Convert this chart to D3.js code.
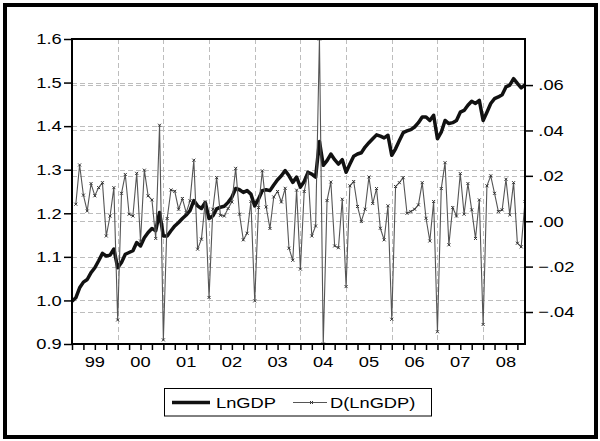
<!DOCTYPE html>
<html>
<head>
<meta charset="utf-8">
<script src="https://cdn.jsdelivr.net/npm/d3@7"></script>
<style>
  body { margin: 0; background: #fff; }
  text { font-family: "Liberation Sans", Arial, sans-serif; fill: #000; }
</style>
</head>
<body>
<script>
// nhan nam tren truc x (1999 - 2008, so lieu theo thang)
var yearLabels = ["99", "00", "01", "02", "03", "04", "05", "06", "07", "08"];

// chuoi LnGDP (truc trai), 120 quan sat thang
var lnGDP = [
  0.998, 1.006, 1.029, 1.042, 1.048, 1.064, 1.075, 1.091, 1.108, 1.102, 1.104, 1.118,
  1.075, 1.087, 1.106, 1.110, 1.114, 1.133, 1.125, 1.144, 1.156, 1.165, 1.160, 1.202,
  1.148, 1.148, 1.160, 1.171, 1.179, 1.188, 1.196, 1.206, 1.229, 1.217, 1.211, 1.225,
  1.188, 1.194, 1.210, 1.214, 1.216, 1.225, 1.237, 1.257, 1.254, 1.248, 1.252, 1.244,
  1.217, 1.233, 1.252, 1.254, 1.252, 1.265, 1.277, 1.286, 1.298, 1.286, 1.271, 1.283,
  1.260, 1.273, 1.294, 1.290, 1.283, 1.365, 1.310, 1.321, 1.336, 1.323, 1.313, 1.323,
  1.294, 1.313, 1.331, 1.336, 1.339, 1.352, 1.362, 1.371, 1.380, 1.377, 1.373, 1.379,
  1.333, 1.348, 1.367, 1.385, 1.389, 1.392, 1.398, 1.408, 1.421, 1.421, 1.413, 1.425,
  1.371, 1.386, 1.413, 1.406, 1.408, 1.413, 1.432, 1.436, 1.448, 1.457, 1.452, 1.459,
  1.413, 1.432, 1.452, 1.463, 1.467, 1.472, 1.490, 1.494, 1.509, 1.498, 1.488, 1.495
];

// chuoi D(LnGDP) (truc phai), quan sat dau tien khong co
var dLnGDP = [
  null, 0.0075, 0.0248, 0.0115, 0.0045, 0.0166, 0.0112, 0.0148, 0.0170, -0.0065, 0.0023, 0.0148,
  -0.0435, 0.0123, 0.0206, 0.0031, 0.0023, 0.0211, -0.0087, 0.0225, 0.0112, 0.0094, -0.0076, 0.0423,
  -0.0523, 0.0012, 0.0138, 0.0132, 0.0053, 0.0100, 0.0038, 0.0090, 0.0269, -0.0123, -0.0079, 0.0085,
  -0.0336, 0.0053, 0.0192, 0.0026, 0.0023, 0.0056, 0.0085, 0.0233, 0.0031, -0.0082, -0.0053, 0.0087,
  -0.0351, 0.0060, 0.0222, 0.0063, -0.0032, 0.0107, 0.0131, 0.0085, 0.0145, -0.0119, -0.0172, 0.0137,
  -0.0211, 0.0131, 0.0214, -0.0065, -0.0021, 0.0803, -0.0541, 0.0091, 0.0173, -0.0109, -0.0117, 0.0097,
  -0.0288, 0.0156, 0.0175, 0.0065, -0.0001, 0.0053, 0.0195, 0.0078, 0.0144, -0.0031, -0.0082, 0.0068,
  -0.0432, 0.0153, 0.0170, 0.0192, 0.0035, 0.0043, 0.0053, 0.0072, 0.0170, 0.0013, -0.0087, 0.0087,
  -0.0487, 0.0144, 0.0258, -0.0104, 0.0060, 0.0023, 0.0210, 0.0031, 0.0166, 0.0050, -0.0076, 0.0094,
  -0.0455, 0.0156, 0.0200, 0.0123, 0.0043, 0.0050, 0.0185, 0.0028, 0.0170, -0.0097, -0.0113, 0.0087
];

// vach chia cua hai truc
var leftTicks = [0.9, 1.0, 1.1, 1.2, 1.3, 1.4, 1.5, 1.6];
var rightTicks = [-0.04, -0.02, 0.00, 0.02, 0.04, 0.06];
var seriesNames = ["LnGDP", "D(LnGDP)"];

var width = 600,
    height = 441,
    stretch = 1.22; // chu trong hinh goc bi keo ngang

var plot = { left: 72, right: 525, top: 39, bottom: 344 };

var svg = d3.select("body")
    .append("svg")
    .attr("width", width)
    .attr("height", height);

// khung ngoai day
svg.append("rect")
    .attr("x", 5).attr("y", 5)
    .attr("width", 591).attr("height", 432)
    .attr("fill", "none")
    .attr("stroke", "#000")
    .attr("stroke-width", 4);

var x = d3.scaleLinear().domain([0, lnGDP.length - 1]).range([plot.left, plot.right]);
var yL = d3.scaleLinear().domain([0.9, 1.6]).range([plot.bottom, plot.top]);
var yR = d3.scaleLinear().domain([-0.0541, 0.0803]).range([plot.bottom, plot.top]);

var idx = d3.range(lnGDP.length);
var janIdx = idx.filter(function(i) { return i % 12 === 0 && i > 0; });
var quarterIdx = idx.filter(function(i) { return i % 3 === 0; });

// luoi (net dut xam)
var grid = svg.append("g").attr("class", "grid")
    .attr("stroke", "#bdbdbd")
    .attr("stroke-width", 1)
    .attr("stroke-dasharray", "5,3");

grid.selectAll("line.gl")
    .data(leftTicks.filter(function(d) { return d > 0.95 && d < 1.55; }))
    .enter().append("line")
    .attr("x1", plot.left).attr("x2", plot.right)
    .attr("y1", function(d) { return Math.round(yL(d)) + 0.5; })
    .attr("y2", function(d) { return Math.round(yL(d)) + 0.5; });

grid.selectAll("line.gr")
    .data(rightTicks)
    .enter().append("line")
    .attr("x1", plot.left).attr("x2", plot.right)
    .attr("y1", function(d) { return Math.round(yR(d)) + 0.5; })
    .attr("y2", function(d) { return Math.round(yR(d)) + 0.5; });

grid.selectAll("line.gx")
    .data(janIdx)
    .enter().append("line")
    .attr("x1", function(d) { return Math.round(x(d)) + 0.5; })
    .attr("x2", function(d) { return Math.round(x(d)) + 0.5; })
    .attr("y1", plot.top).attr("y2", plot.bottom);

svg.append("clipPath").attr("id", "clip")
    .append("rect")
    .attr("x", plot.left).attr("y", plot.top)
    .attr("width", plot.right - plot.left)
    .attr("height", plot.bottom - plot.top);

var body = svg.append("g").attr("clip-path", "url(#clip)");

// duong LnGDP (net dam)
var lineL = d3.line()
    .x(function(d, i) { return x(i); })
    .y(function(d) { return yL(d); });

body.append("path")
    .datum(lnGDP)
    .attr("d", lineL)
    .attr("fill", "none")
    .attr("stroke", "#111")
    .attr("stroke-width", 3.5)
    .attr("stroke-linejoin", "round");

// duong D(LnGDP) (net manh co dau x)
var lineR = d3.line()
    .defined(function(d) { return d !== null; })
    .x(function(d, i) { return x(i); })
    .y(function(d) { return yR(d); });

body.append("path")
    .datum(dLnGDP)
    .attr("d", lineR)
    .attr("fill", "none")
    .attr("stroke", "#555")
    .attr("stroke-width", 1.1);

var cross = "M-1.5,-1.5L1.5,1.5M-1.5,1.5L1.5,-1.5";
body.selectAll("path.mk")
    .data(idx.filter(function(i) { return dLnGDP[i] !== null; }))
    .enter().append("path")
    .attr("class", "mk")
    .attr("d", cross)
    .attr("transform", function(i) { return "translate(" + x(i) + "," + yR(dLnGDP[i]) + ")"; })
    .attr("stroke", "#333")
    .attr("stroke-width", 1);

// khung vung ve
svg.append("rect")
    .attr("x", plot.left).attr("y", plot.top)
    .attr("width", plot.right - plot.left)
    .attr("height", plot.bottom - plot.top)
    .attr("fill", "none")
    .attr("stroke", "#000")
    .attr("stroke-width", 2);

// truc trai
var axL = svg.append("g")
    .attr("transform", "translate(" + plot.left + ",0)")
    .call(d3.axisLeft(yL).tickValues(leftTicks).tickSize(8).tickFormat(d3.format(".1f")));

// truc phai: bo so 0 dang truoc (.06, -.04)
var fmtR = function(d) { return d3.format(".2f")(d).replace("0.", "."); };
var axR = svg.append("g")
    .attr("transform", "translate(" + plot.right + ",0)")
    .call(d3.axisRight(yR).tickValues(rightTicks).tickSize(8).tickFormat(fmtR));

// truc duoi: vach theo quy
var axB = svg.append("g")
    .attr("transform", "translate(0," + plot.bottom + ")")
    .call(d3.axisBottom(x).tickValues(quarterIdx).tickSize(6).tickFormat(""));

[axL, axR, axB].forEach(function(a) {
    a.select(".domain").remove();
    a.selectAll("line").attr("stroke", "#000").attr("stroke-width", 1.5);
});

axL.selectAll("text")
    .attr("font-size", 15)
    .attr("x", -8.5)
    .attr("transform", "scale(" + stretch + ",1)");

axR.selectAll("text")
    .attr("font-size", 15)
    .attr("x", 10.9)
    .attr("transform", "scale(" + stretch + ",1)");

// nhan nam, dat giua moi nam
svg.append("g").selectAll("text")
    .data(yearLabels)
    .enter().append("text")
    .attr("transform", function(d, k) {
        return "translate(" + x(12 * k + 6) + ",367) scale(" + stretch + ",1)";
    })
    .attr("text-anchor", "middle")
    .attr("font-size", 15)
    .text(function(d) { return d; });

// chu giai
var legend = svg.append("g").attr("class", "legend");
legend.append("rect")
    .attr("x", 164.5).attr("y", 388.5)
    .attr("width", 267).attr("height", 27.5)
    .attr("fill", "#fff")
    .attr("stroke", "#000")
    .attr("stroke-width", 1);

legend.append("line")
    .attr("x1", 172).attr("x2", 210)
    .attr("y1", 402.5).attr("y2", 402.5)
    .attr("stroke", "#111").attr("stroke-width", 3.5);
legend.append("text")
    .attr("transform", "translate(216,408) scale(" + stretch + ",1)")
    .attr("font-size", 15)
    .text(seriesNames[0]);

legend.append("line")
    .attr("x1", 293).attr("x2", 327)
    .attr("y1", 402.5).attr("y2", 402.5)
    .attr("stroke", "#555").attr("stroke-width", 1.1);
legend.append("path")
    .attr("d", cross)
    .attr("transform", "translate(311.5,402.5)")
    .attr("stroke", "#333");
legend.append("text")
    .attr("transform", "translate(330,408) scale(" + stretch + ",1)")
    .attr("font-size", 15)
    .text(seriesNames[1]);
</script>
</body>
</html>
